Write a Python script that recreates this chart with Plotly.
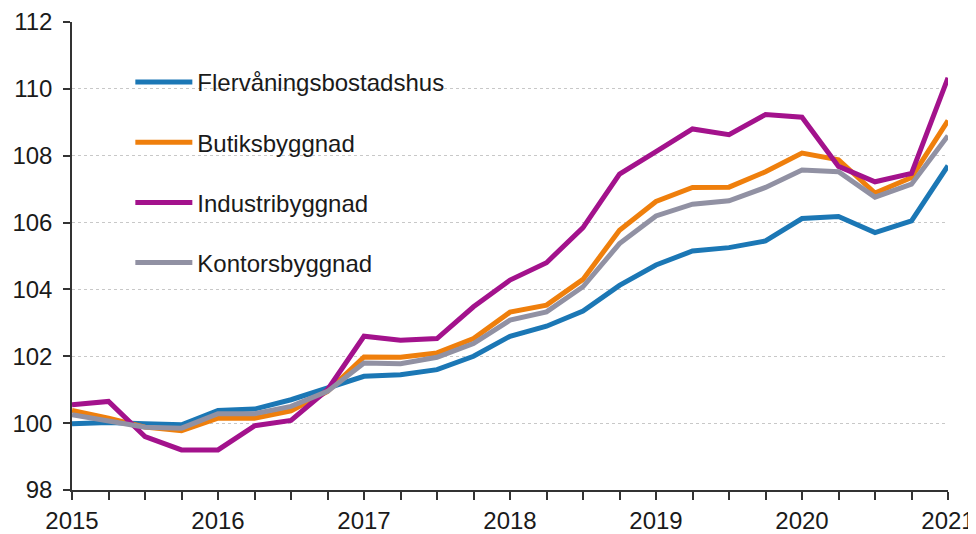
import plotly.graph_objects as go

quarters = [f"{y}Q{q}" for y in range(2015, 2021) for q in range(1, 5)] + ["2021Q1"]
year_labels = ["2015", "2016", "2017", "2018", "2019", "2020", "2021"]

flervaningsbostadshus = [99.98, 100.02, 99.98, 99.95, 100.38, 100.42, 100.70, 101.05, 101.40, 101.45,
                         101.60, 102.00, 102.60, 102.90, 103.35, 104.12, 104.73, 105.15, 105.25, 105.45,
                         106.12, 106.18, 105.70, 106.05, 107.70]
butiksbyggnad = [100.38, 100.15, 99.88, 99.77, 100.15, 100.15, 100.37, 100.95, 101.98, 101.97,
                 102.10, 102.53, 103.32, 103.53, 104.30, 105.77, 106.63, 107.05, 107.06, 107.52,
                 108.08, 107.88, 106.88, 107.35, 109.05]
industribyggnad = [100.55, 100.65, 99.60, 99.20, 99.20, 99.92, 100.08, 101.00, 102.60, 102.48,
                   102.53, 103.48, 104.28, 104.80, 105.85, 107.45, 108.12, 108.80, 108.63, 109.23,
                   109.15, 107.68, 107.22, 107.47, 110.33]
kontorsbyggnad = [100.25, 100.07, 99.88, 99.85, 100.28, 100.28, 100.50, 100.95, 101.80, 101.78,
                  101.97, 102.38, 103.08, 103.33, 104.08, 105.37, 106.20, 106.55, 106.65, 107.05,
                  107.57, 107.52, 106.76, 107.15, 108.60]

series = [
    ("Flervåningsbostadshus", flervaningsbostadshus, "#1b77b5"),
    ("Butiksbyggnad", butiksbyggnad, "#ef7f0c"),
    ("Industribyggnad", industribyggnad, "#a3128c"),
    ("Kontorsbyggnad", kontorsbyggnad, "#9191a3"),
]

fig = go.Figure()
for i, (name, vals, color) in enumerate(series):
    fig.add_trace(go.Scatter(
        x=quarters, y=vals, name=name, mode="lines",
        line=dict(color=color, width=5), legendgroup=f"g{i}",
    ))

ticktext = [q[:4] if q.endswith("Q1") else "" for q in quarters]

FONT = "Liberation Sans, Arial, sans-serif"
fig.update_layout(
    width=968, height=526,
    margin=dict(l=64, r=28, t=14, b=44),
    paper_bgcolor="white", plot_bgcolor="white",
    font=dict(family=FONT, size=24, color="#1a1a1a"),
    showlegend=True,
    legend=dict(
        x=0.0666, y=0.919, xanchor="left", yanchor="top",
        bgcolor="rgba(0,0,0,0)", borderwidth=0,
        tracegroupgap=26, itemwidth=57,
        font=dict(family=FONT, size=24, color="#1a1a1a"),
    ),
    xaxis=dict(
        type="category", range=[0, len(quarters) - 1],
        tickmode="array", tickvals=quarters, ticktext=ticktext,
        ticks="outside", ticklen=8, tickwidth=1.5, tickcolor="#333333",
        showline=True, linecolor="#333333", linewidth=1.5,
        showgrid=False, zeroline=False, automargin=False,
        tickfont=dict(family=FONT, size=24, color="#1a1a1a"),
    ),
    yaxis=dict(
        range=[98, 112], dtick=2, tick0=98,
        ticks="outside", ticklen=7, tickwidth=1.5, tickcolor="#333333",
        showline=True, linecolor="#333333", linewidth=1.5,
        showgrid=True, gridcolor="#c8c8c8", gridwidth=1, griddash="dot",
        zeroline=False, automargin=False,
        tickfont=dict(family=FONT, size=24, color="#1a1a1a"),
        ticklabelstandoff=6,
    ),
)

fig.write_html("out.html")
